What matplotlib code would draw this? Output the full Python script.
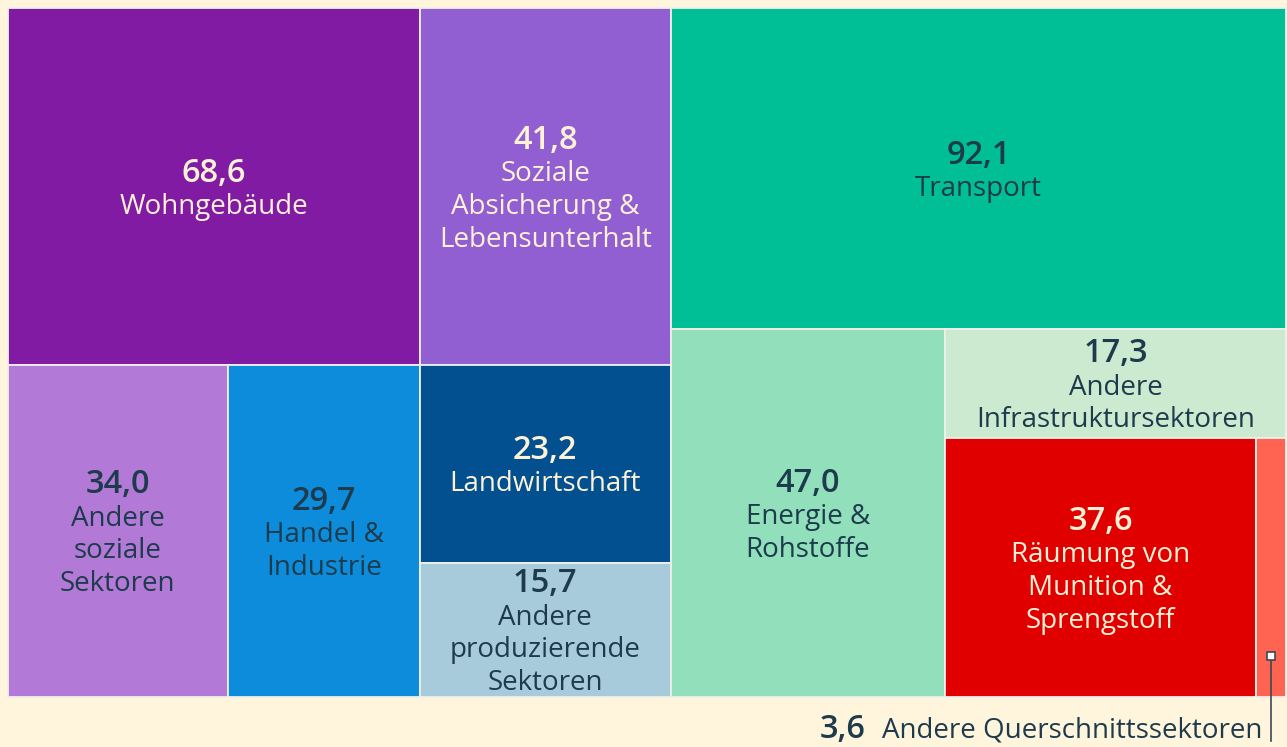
import matplotlib
matplotlib.use("Agg")
import matplotlib.pyplot as plt
from matplotlib.patches import Rectangle

plt.rcParams['font.family'] = ['Open Sans', 'DejaVu Sans']

# ---- data ----
labels = ["Wohngebäude", "Soziale\nAbsicherung &\nLebensunterhalt", "Andere\nsoziale\nSektoren",
          "Handel &\nIndustrie", "Landwirtschaft", "Andere\nproduzierende\nSektoren",
          "Transport", "Energie &\nRohstoffe", "Andere\nInfrastruktursektoren",
          "Räumung von\nMunition &\nSprengstoff", "Andere Querschnittssektoren"]
values = [68.6, 41.8, 34.0, 29.7, 23.2, 15.7, 92.1, 47.0, 17.3, 37.6, 3.6]
value_text = ["68,6", "41,8", "34,0", "29,7", "23,2", "15,7", "92,1", "47,0", "17,3", "37,6", "3,6"]
colors = ["#821ba3", "#925fd2", "#b27ad6", "#0e8cdc", "#02508f", "#a8cbdb",
          "#00bf97", "#91e0bb", "#cbead0", "#e00000", "#ff6352"]
light_text = [True, True, False, False, True, False, False, False, False, True, False]
# hierarchy of the treemap (indices into the lists above)
tree = [[[0, 1], [2, 3, [4, 5]]], [6, [7, [8, [9, 10]]]]]

BG = "#fff5dc"
CREAM = "#fdf1d6"
DARK = "#1d3b4c"

W, H = 1287, 747
fig = plt.figure(figsize=(W / 100, H / 100), dpi=100, facecolor=BG)
ax = fig.add_axes([0, 0, 1, 1])
ax.set_xlim(0, W)
ax.set_ylim(H, 0)
ax.axis("off")
ax.set_facecolor(BG)


def total(node):
    if isinstance(node, list):
        return sum(total(n) for n in node)
    return values[node]


rects = {}


def layout(node, x0, y0, x1, y1, horizontal):
    if not isinstance(node, list):
        rects[node] = (x0, y0, x1, y1)
        return
    t = total(node)
    pos = x0 if horizontal else y0
    for child in node:
        frac = total(child) / t
        if horizontal:
            w = (x1 - x0) * frac
            layout(child, pos, y0, pos + w, y1, not horizontal)
            pos += w
        else:
            h = (y1 - y0) * frac
            layout(child, x0, pos, x1, pos + h, not horizontal)
            pos += h


layout(tree, 8, 8, 1286, 697, True)

LINE = 32.8
VFS = 23.5
LFS = 20
for i, (x0, y0, x1, y1) in rects.items():
    ax.add_patch(Rectangle((x0, y0), x1 - x0, y1 - y0, facecolor=colors[i],
                           edgecolor="#eef0ea", linewidth=1.3))
    if i == 10:
        continue
    tc = CREAM if light_text[i] else DARK
    lines = labels[i].split("\n")
    n = len(lines) + 1
    cx = (x0 + x1) / 2
    cy = (y0 + y1) / 2
    top = cy - (n - 1) * LINE / 2 + 3
    ax.text(cx, top, value_text[i], ha="center", va="center", color=tc,
            fontsize=VFS, fontweight="semibold")
    for k, ln in enumerate(lines):
        ax.text(cx, top + (k + 1) * LINE + 1, ln, ha="center", va="center", color=tc,
                fontsize=LFS)

# callout for the small tile
x0, y0, x1, y1 = rects[10]
mx = (x0 + x1) / 2
ax.plot([mx, mx], [656, 741], color="#3a4a55", lw=1.2)
ax.plot([mx], [656], marker="s", ms=6, mfc="white", mec="#3a4a55", mew=1.2)
t1 = ax.text(1262, 731, labels[10], ha="right", va="center", color=DARK, fontsize=LFS)
fig.canvas.draw()
bb = t1.get_window_extent()
inv = ax.transData.inverted()
left = inv.transform((bb.x0, bb.y0))[0]
ax.text(left - 16, 730, value_text[10], ha="right", va="center", color=DARK,
        fontsize=VFS, fontweight="semibold")

fig.savefig("out.png", dpi=100, facecolor=BG)
